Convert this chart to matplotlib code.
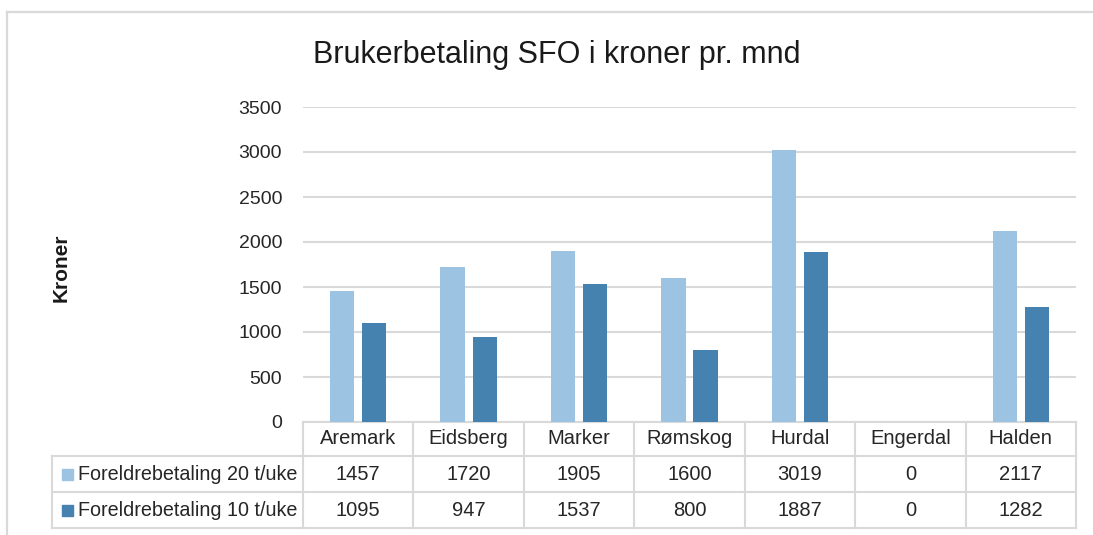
import matplotlib
matplotlib.use('Agg')
import matplotlib.pyplot as plt
from matplotlib import font_manager
from matplotlib.patches import Rectangle
from matplotlib.lines import Line2D
import matplotlib.transforms as mtrans

names = set(f.name for f in font_manager.fontManager.ttflist)
fam = 'Liberation Sans Narrow' if 'Liberation Sans Narrow' in names else 'Liberation Sans'
plt.rcParams['font.family'] = [fam, 'DejaVu Sans']

kommuner = ['Aremark', 'Eidsberg', 'Marker', 'Rømskog', 'Hurdal', 'Engerdal', 'Halden']
betaling_20 = [1457, 1720, 1905, 1600, 3019, 0, 2117]
betaling_10 = [1095, 947, 1537, 800, 1887, 0, 1282]
serier = ['Foreldrebetaling 20 t/uke', 'Foreldrebetaling 10 t/uke']
farger = ['#9DC3E3', '#4682B0']
yticks = [0, 500, 1000, 1500, 2000, 2500, 3000, 3500]

W, H = 1093, 535
fig = plt.figure(figsize=(W / 100, H / 100), dpi=100)

def fx(x):
    return x / W

def fy(y):
    return 1 - y / H

# outer frame (partially visible)
grey = '#D9D9D9'
fig.add_artist(Line2D([fx(7), fx(7)], [fy(12), 0], transform=fig.transFigure, color=grey, lw=1.6))
fig.add_artist(Line2D([fx(7), 1], [fy(12), fy(12)], transform=fig.transFigure, color=grey, lw=1.6))

left, right, top, bottom = 303, 1076, 107, 422
ax = fig.add_axes([fx(left), fy(bottom), fx(right - left), (bottom - top) / H])

x = list(range(len(kommuner)))
bw = 0.22
ax.bar([i - 0.145 for i in x], betaling_20, width=bw, color=farger[0], zorder=3)
ax.bar([i + 0.145 for i in x], betaling_10, width=bw, color=farger[1], zorder=3)

ax.set_xlim(-0.5, len(kommuner) - 0.5)
ax.set_ylim(0, 3500)
ax.set_yticks(yticks)
ax.set_yticklabels([str(v) for v in yticks], fontsize=14, color='#262626')
ax.tick_params(axis='y', length=0, pad=15)
ax.set_xticks([])
for s in ax.spines.values():
    s.set_visible(False)
ax.grid(axis='y', color=grey, lw=1.5, zorder=0)
ax.set_axisbelow(True)

# data table below the plot
trans = mtrans.blended_transform_factory(ax.transData, fig.transFigure)
rows_y = [422, 456, 492, 528]
tleft = -0.5 - (left - 52) / ((right - left) / len(kommuner))
n = len(kommuner)
for yy in rows_y[1:]:
    ax.add_line(Line2D([tleft, n - 0.5], [fy(yy), fy(yy)], transform=trans, color=grey, lw=1.5, clip_on=False))
ax.add_line(Line2D([-0.5, n - 0.5], [fy(rows_y[0]), fy(rows_y[0])], transform=trans, color=grey, lw=1.5, clip_on=False))
ax.add_line(Line2D([tleft, tleft], [fy(rows_y[1]), fy(rows_y[3])], transform=trans, color=grey, lw=1.5, clip_on=False))
for k in range(n + 1):
    ax.add_line(Line2D([k - 0.5, k - 0.5], [fy(rows_y[0]), fy(rows_y[3])], transform=trans, color=grey, lw=1.5, clip_on=False))

for i, navn in enumerate(kommuner):
    cy = fy((rows_y[0] + rows_y[1]) / 2)
    ax.text(i, cy, navn, transform=trans, ha='center', va='center', fontsize=14.5, color='#262626')
    for r, serie in enumerate([betaling_20, betaling_10]):
        cy = fy((rows_y[r + 1] + rows_y[r + 2]) / 2)
        ax.text(i, cy, str(serie[i]), transform=trans, ha='center', va='center', fontsize=14.5, color='#262626')

for r, navn in enumerate(serier):
    cy = (rows_y[r + 1] + rows_y[r + 2]) / 2
    fig.add_artist(Rectangle((fx(62), fy(cy + 5.5)), fx(11), 11 / H, transform=fig.transFigure, color=farger[r]))
    fig.text(fx(78), fy(cy), navn, ha='left', va='center', fontsize=14.2, color='#262626')

fig.text(fx(557), fy(55), 'Brukerbetaling SFO i kroner pr. mnd', ha='center', va='center', fontsize=22, color='#1a1a1a')
fig.text(fx(61), fy(268), 'Kroner', rotation=90, ha='center', va='center', fontsize=15, fontweight='bold', color='#1a1a1a')

fig.savefig('out.png', dpi=100)
